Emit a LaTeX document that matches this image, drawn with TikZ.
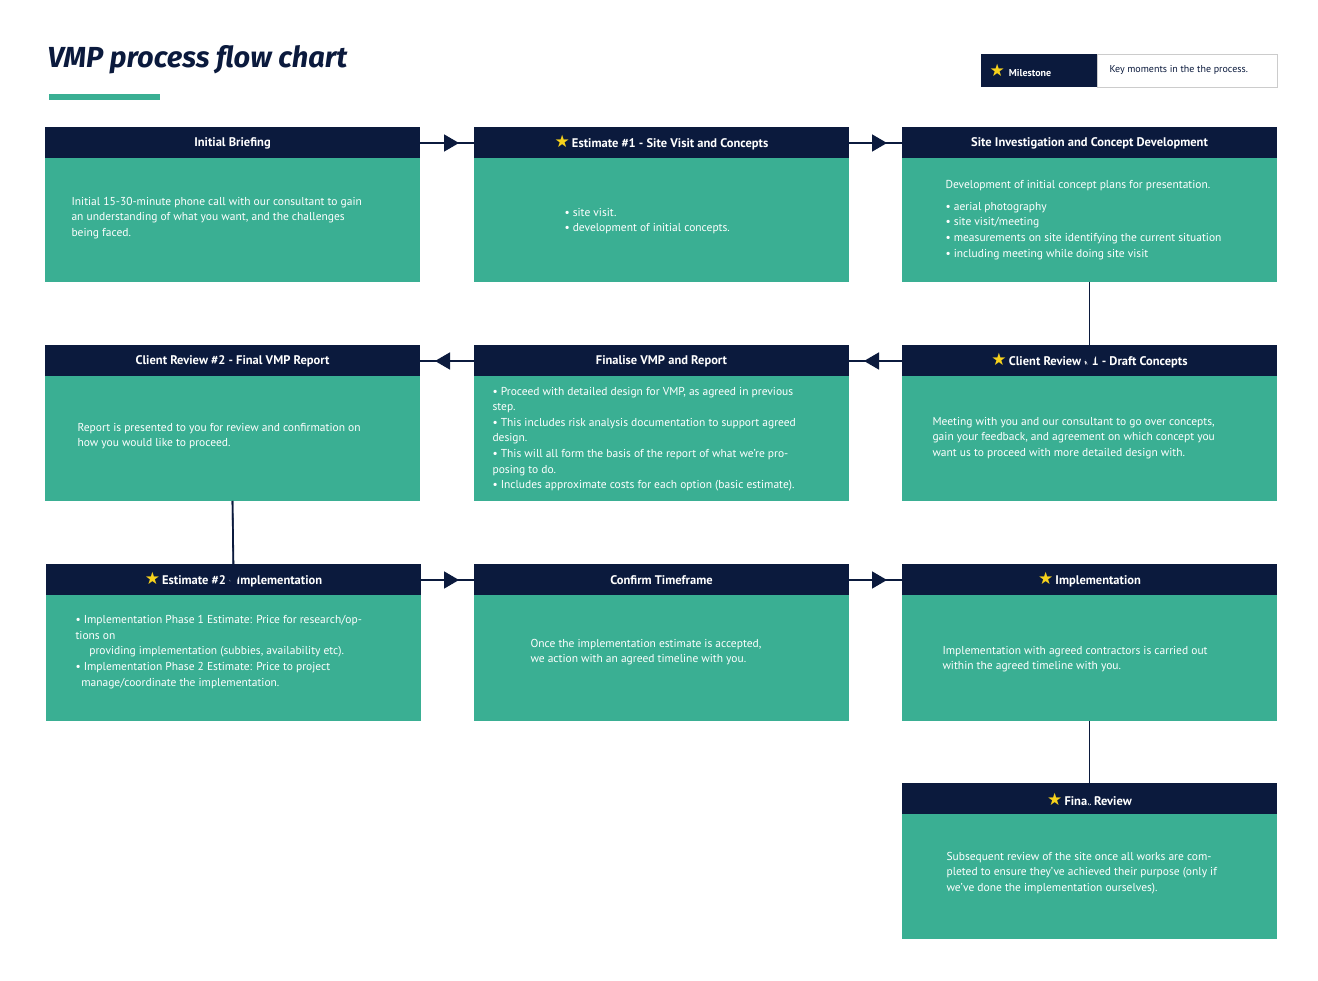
\documentclass[tikz,border=0pt]{standalone}
\usepackage{fontspec}
\setmainfont{PT Sans}
\newfontfamily\symf{DejaVu Sans}
\usetikzlibrary{arrows.meta}
\definecolor{navy}{HTML}{0B1A3D}
\definecolor{teal}{HTML}{3AAF93}
\definecolor{staryel}{HTML}{F7D21C}
\newcommand{\mstar}{{\symf\color{staryel}\fontsize{17}{17}\selectfont ★}\,}
\tikzset{
 hdr/.style={fill=navy,draw=none},
 bdy/.style={fill=teal,draw=none},
 htxt/.style={text=white,font=\bfseries\fontsize{12.5}{14}\selectfont,anchor=center},
 btxt/.style={text=white,font=\fontsize{11.5}{15.6}\selectfont,anchor=west,align=left},
 conn/.style={navy,line width=1.6pt},
 tip/.style={navy,line width=1.6pt,-{Triangle[length=15pt,width=17pt]}}
}
\newcommand{\stepbox}[6]{%
 \fill[bdy] (#2,#3) rectangle (#2+375,#4);
 \fill[hdr] (#2,#3) rectangle (#2+375,#3+31);
 \coordinate (#1-nw) at (#2,#3);
 \node[htxt] (#1-h) at (#2+187.5,#3+16) {#5};
 \coordinate (#1-l) at (#2,#3+16);
 \coordinate (#1-r) at (#2+375,#3+16);
 \coordinate (#1-t) at (#2+187.5,#3);
 \coordinate (#1-b) at (#2+187.5,#4);
 #6}
\begin{document}
\begin{tikzpicture}[x=1pt,y=-1pt]
\useasboundingbox (0,0) rectangle (1318,981);
\fill[white] (0,0) rectangle (1318,981);
\node[anchor=west,text=navy,font=\fontspec{Fira Sans}\bfseries\itshape\fontsize{29}{30}\selectfont] (title) at (44,60) {VMP process flow chart};
\fill[teal] (49,94) rectangle (160,100);
% legend
\fill[navy] (981,54) rectangle (1097,87);
\draw[gray!40] (1097,54) rectangle (1277,87);
\node[anchor=west,text=white,font=\bfseries\fontsize{10}{12}\selectfont] (leg1) at (986,70.5) {\mstar\ Milestone};
\node[anchor=west,text=navy,font=\fontsize{10}{12}\selectfont] (leg2) at (1106,70) {Key moments in the the process.};
\stepbox{a}{45}{127}{282}{Initial Briefing}{\node[btxt] (a-t1) at (68,218) {Initial 15-30-minute phone call with our consultant to gain\\an understanding of what you want, and the challenges\\being faced.};}
\stepbox{b}{474}{127}{282}{\mstar Estimate \#1 - Site Visit and Concepts}{\node[btxt] (b-t1) at (561,221) {• site visit.\\• development of initial concepts.};}
\stepbox{c}{902}{127}{282}{Site Investigation and Concept Development}{\node[btxt] (c-t1) at (942,220) {Development of initial concept plans for presentation.\\[6pt]• aerial photography\\• site visit/meeting\\• measurements on site identifying the current situation\\• including meeting while doing site visit};}
\stepbox{f}{45}{345}{501}{Client Review \#2 - Final VMP Report}{\node[btxt] (f-t1) at (74,436) {Report is presented to you for review and confirmation on\\how you would like to proceed.};}
\stepbox{e}{474}{345}{501}{Finalise VMP and Report}{\node[btxt] (e-t1) at (489,439) {• Proceed with detailed design for VMP, as agreed in previous\\step.\\• This includes risk analysis documentation to support agreed\\design.\\• This will all form the basis of the report of what we’re pro-\\posing to do.\\• Includes approximate costs for each option (basic estimate).};}
\stepbox{d}{902}{345}{501}{\mstar Client Review \#1 - Draft Concepts}{\node[btxt] (d-t1) at (929,438) {Meeting with you and our consultant to go over concepts,\\gain your feedback, and agreement on which concept you\\want us to proceed with more detailed design with.};}
\stepbox{g}{46}{564}{721}{\mstar Estimate \#2 - Implementation}{\node[btxt] (g-t1) at (72,652) {• Implementation Phase 1 Estimate: Price for research/op-\\tions on\\\hspace*{1.2em}providing implementation (subbies, availability etc).\\• Implementation Phase 2 Estimate: Price to project\\\hspace*{0.5em}manage/coordinate the implementation.};}
\stepbox{h}{474}{564}{721}{Confirm Timeframe}{\node[btxt] (h-t1) at (527,652) {Once the implementation estimate is accepted,\\we action with an agreed timeline with you.};}
\stepbox{i}{902}{564}{721}{\mstar Implementation}{\node[btxt] (i-t1) at (939,659) {Implementation with agreed contractors is carried out\\within the agreed timeline with you.};}
\stepbox{j}{902}{783}{939}{\mstar Final Review}{\node[btxt] (j-t1) at (943,873) {Subsequent review of the site once all works are com-\\pleted to ensure they’ve achieved their purpose (only if\\we’ve done the implementation ourselves).};}
% connectors
\draw[conn] (a-r) -- (b-l); \draw[tip] (a-r) -- ([xshift=-15pt]b-l);
\draw[conn] (b-r) -- (c-l); \draw[tip] (b-r) -- ([xshift=-15pt]c-l);
\draw[conn] (c-b) -- (d-t); \draw[tip] (c-b) -- ([yshift=-22pt]d-t);
\draw[conn] (d-l) -- (e-r); \draw[tip] (d-l) -- ([xshift=15pt]e-r);
\draw[conn] (e-l) -- (f-r); \draw[tip] (e-l) -- ([xshift=15pt]f-r);
\draw[conn] (f-b) -- (g-t); \draw[tip] (f-b) -- ([yshift=-22pt]g-t);
\draw[conn] (g-r) -- (h-l); \draw[tip] (g-r) -- ([xshift=-15pt]h-l);
\draw[conn] (h-r) -- (i-l); \draw[tip] (h-r) -- ([xshift=-15pt]i-l);
\draw[conn] (i-b) -- (j-t); \draw[tip] (i-b) -- ([yshift=-22pt]j-t);
\end{tikzpicture}
\end{document}
